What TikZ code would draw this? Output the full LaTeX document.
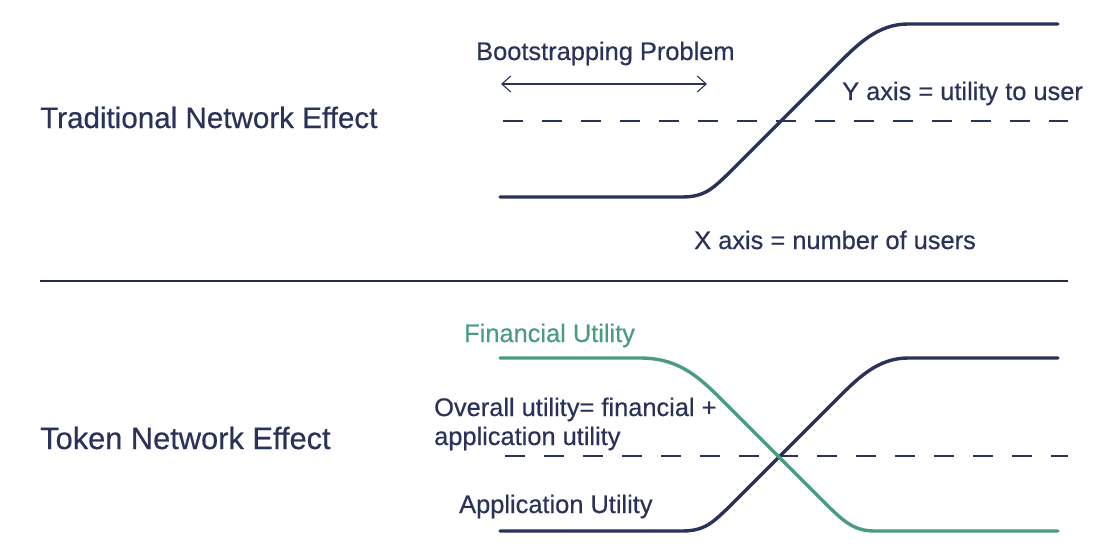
\documentclass[tikz,border=0pt]{standalone}
\usepackage{fontspec}
\setmainfont{Liberation Sans}[FakeBold=0.5]
\usetikzlibrary{arrows.meta}
\definecolor{navy}{HTML}{2A3259}
\definecolor{tgreen}{HTML}{4A9C80}
\tikzset{
  headtxt/.style={anchor=base west,inner sep=0pt,text=navy,font=\fontsize{30}{36}\selectfont},
  smalltxt/.style={anchor=base west,inner sep=0pt,text=navy,font=\fontsize{25.4}{30}\selectfont},
  curve/.style={line width=3.4pt,line cap=round,line join=round},
  midline/.style={navy,line width=1.4pt,dash pattern=on 20pt off 19pt},
  sepline/.style={navy!85!black,line width=1.1pt},
  bootarrow/.style={navy,line width=1.1pt,{Straight Barb[length=9pt,width=16pt]}-{Straight Barb[length=9pt,width=16pt]}}
}
\begin{document}
\begin{tikzpicture}[x=1pt,y=-1pt]
\useasboundingbox (0,0) rectangle (1111,555);
% texts
\node[headtxt,font=\fontsize{29.6}{36}\selectfont] (trad) at (40,128) {Traditional Network Effect};
\node[headtxt,font=\fontsize{30.8}{36}\selectfont] (tok) at (40,449) {Token Network Effect};
\node[smalltxt] (boot) at (476,60) {Bootstrapping Problem};
\node[smalltxt] (yax) at (842,100) {Y axis = utility to user};
\node[smalltxt] (xax) at (694,249) {X axis = number of users};
\node[smalltxt,text=tgreen] (fin) at (464,342) {Financial Utility};
\node[smalltxt] (ov1) at (434,416) {Overall utility= financial +};
\node[smalltxt] (ov2) at (434,445) {application utility};
\node[smalltxt] (app) at (459,513) {Application Utility};
% arrow
\coordinate (bl) at (501,84);
\coordinate (br) at (707,84);
\draw[bootarrow] (bl) -- (br);
% dashed midlines
\coordinate (d1a) at (503,121);
\coordinate (d1b) at (1068,121);
\draw[midline] (d1a) -- (d1b);
\coordinate (d2a) at (505,456);
\coordinate (d2b) at (1068,456);
\draw[midline] (d2a) -- (d2b);
% separator
\coordinate (sa) at (40,281);
\coordinate (sb) at (1068,281);
\draw[sepline] (sa) -- (sb);
% top navy curve
\draw[curve,navy] (500,197) -- (682,197) .. controls (705,197) and (713,188) .. (728,174)
  -- (838,64) .. controls (858,44) and (878,24) .. (908,24) -- (1058,24);
% bottom navy curve
\draw[curve,navy] (500,531) -- (682,531) .. controls (705,531) and (713,522) .. (728,508)
  -- (838,398) .. controls (858,378) and (878,358) .. (908,358) -- (1058,358);
% green curve
\draw[curve,tgreen] (500,358) -- (640,358) .. controls (680,358) and (700,378) .. (725,403)
  -- (825,503) .. controls (845,523) and (855,531) .. (875,531) -- (1058,531);
\end{tikzpicture}
\end{document}
